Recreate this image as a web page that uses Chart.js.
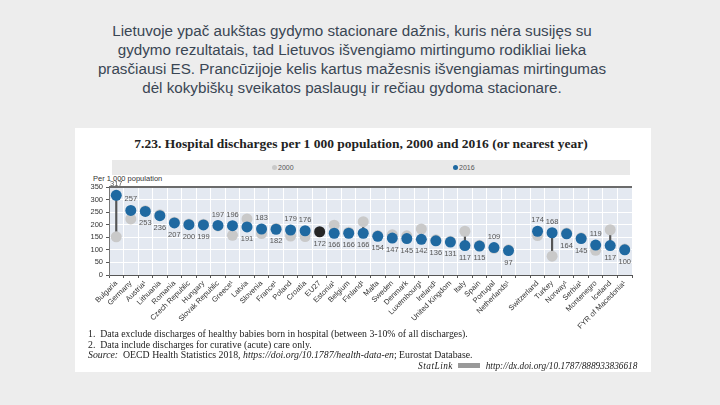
<!DOCTYPE html>
<html>
<head>
<meta charset="utf-8">
<script src="https://cdn.jsdelivr.net/npm/chart.js@4"></script>
<style>
body { margin:0; width:720px; height:405px; background:#ededed; font-family:'Liberation Sans', Arial, sans-serif; position:relative; overflow:hidden; }
#slideTitle { position:absolute; left:-8px; top:21px; width:720px; text-align:center; font-size:15.2px; line-height:19px; color:#3a4654; }
#panel { position:absolute; left:75px; top:128px; width:576px; height:244px; background:#fff; }
#chartTitle { position:absolute; left:-2px; top:8px; width:100%; text-align:center; font-family:'Liberation Serif', serif; font-weight:bold; font-size:13.5px; color:#222; }
#legendBand { position:absolute; left:37px; top:32px; width:518px; height:15px; background:#e9e9e9; font-family:'Liberation Sans Narrow','Liberation Sans',sans-serif; font-size:7px; color:#555; }
.lg { position:absolute; top:3.5px; }
.dot { display:inline-block; width:5px; height:5px; border-radius:50%; margin-right:1px; vertical-align:-0.5px; }
#yTitle { position:absolute; left:18px; top:46px; font-family:'Liberation Sans Narrow','Liberation Sans',sans-serif; font-size:7.5px; color:#333; }
#chartBox { position:absolute; left:0; top:48px; width:576px; height:162px; }
#notes { position:absolute; left:13px; top:201px; font-family:'Liberation Serif', serif; font-size:9.8px; line-height:10.6px; color:#222; white-space:nowrap; }
#statlink { position:absolute; left:343px; top:233px; font-family:'Liberation Serif', serif; font-size:9.3px; color:#222; white-space:nowrap; }
</style>
</head>
<body>
<div id="slideTitle">Lietuvoje ypač aukštas gydymo stacionare dažnis, kuris nėra susijęs su<br>gydymo rezultatais, tad Lietuvos išvengiamo mirtingumo rodikliai lieka<br>prasčiausi ES. Prancūzijoje kelis kartus mažesnis išvengiamas mirtingumas<br>dėl kokybiškų sveikatos paslaugų ir rečiau gydoma stacionare.</div>
<div id="panel">
  <div id="chartTitle">7.23. Hospital discharges per 1 000 population, 2000 and 2016 (or nearest year)</div>
  <div id="legendBand">
    <span class="lg" style="left:160px"><span class="dot" style="background:#c9c9c9"></span>2000</span>
    <span class="lg" style="left:341px"><span class="dot" style="background:#1f69a1"></span>2016</span>
  </div>
  <div id="yTitle">Per 1 000 population</div>
  <div id="chartBox"><canvas id="hospChart"></canvas></div>
  <div id="notes">1.&nbsp; Data exclude discharges of healthy babies born in hospital (between 3-10% of all discharges).<br>2.&nbsp; Data include discharges for curative (acute) care only.<br><i>Source:</i>&nbsp; OECD Health Statistics 2018, <i>https://doi.org/10.1787/health-data-en</i>; Eurostat Database.</div>
  <div id="statlink"><i style="letter-spacing:0.5px">StatLink</i> <span style="display:inline-block;width:22px;height:5px;background:#999;vertical-align:1px;margin:0 3px"></span> <i>http://dx.doi.org/10.1787/888933836618</i></div>
</div>
<script>
var countries = ['Bulgaria','Germany','Austria¹','Lithuania','Romania','Czech Republic','Hungary','Slovak Republic','Greece¹','Latvia','Slovenia','France¹','Poland','Croatia','EU27','Estonia¹','Belgium','Finland¹','Malta','Sweden','Denmark','Luxembourg¹','Ireland¹','United Kingdom','Italy','Spain','Portugal','Netherlands¹','','Switzerland','Turkey','Norway¹','Serbia¹','Montenegro','Iceland','FYR of Macedonia¹'];
var values2016 = [317,257,253,236,207,200,199,197,196,191,183,182,179,176,172,166,166,166,154,147,145,142,136,131,117,115,109,97,null,174,168,164,145,119,117,100];
var values2000 = [152,223,256,240,210,203,202,195,158,223,165,185,155,153,null,198,170,212,157,160,156,183,140,134,174,118,106,100,null,157,75,167,148,98,180,103];
var yTicks = [0,50,100,150,200,250,300,350];

var blue = '#1f69a1', grey = '#c9c9c9', euColor = '#262626';
var narrow = "'Liberation Sans Narrow','Liberation Sans',sans-serif";

var ranges = values2016.map(function(v, i) {
    var o = values2000[i];
    if (v == null || o == null) return null;
    return [Math.min(v, o), Math.max(v, o)];
});
var pointColors = countries.map(function(c) { return c === 'EU27' ? euColor : blue; });

var plotBackground = {
    id: 'plotBackground',
    beforeDraw: function(chart) {
        var a = chart.chartArea, ctx = chart.ctx;
        ctx.save();
        ctx.fillStyle = '#e4e9f1';
        ctx.fillRect(a.left, a.top, a.right - a.left, a.bottom - a.top);
        ctx.restore();
    },
    afterDraw: function(chart) {
        var a = chart.chartArea, ctx = chart.ctx;
        ctx.save();
        ctx.strokeStyle = '#6b6b6b';
        ctx.lineWidth = 2;
        ctx.beginPath();
        ctx.moveTo(a.left, a.top);
        ctx.lineTo(a.right, a.top);
        ctx.stroke();
        ctx.restore();
    }
};

var valueLabels = {
    id: 'valueLabels',
    afterDatasetsDraw: function(chart) {
        var meta = chart.getDatasetMeta(2), ctx = chart.ctx;
        ctx.save();
        ctx.font = '7.5px ' + narrow;
        ctx.fillStyle = '#555';
        ctx.textAlign = 'center';
        ctx.textBaseline = 'middle';
        meta.data.forEach(function(el, i) {
            var v = values2016[i];
            if (v == null) return;
            var o = values2000[i];
            var above = o != null && o < v;
            ctx.fillText(String(v), el.x, above ? el.y - 11 : el.y + 12);
        });
        ctx.restore();
    }
};

new Chart(document.getElementById('hospChart').getContext('2d'), {
    type: 'bar',
    data: {
        labels: countries,
        datasets: [
            { type: 'bar', label: 'range', data: ranges, backgroundColor: '#555', barThickness: 1.5, order: 3 },
            { type: 'line', label: '2000', data: values2000, showLine: false, pointRadius: 5.5, pointBackgroundColor: grey, pointBorderWidth: 0, order: 2 },
            { type: 'line', label: '2016', data: values2016, showLine: false, pointRadius: 5.5, pointBackgroundColor: pointColors, pointBorderWidth: 0, order: 1 }
        ]
    },
    options: {
        responsive: true,
        maintainAspectRatio: false,
        animation: false,
        layout: { padding: { top: 11, right: 19, left: 0 } },
        plugins: { legend: { display: false }, tooltip: { enabled: false } },
        scales: {
            x: {
                offset: true,
                afterFit: function(s) { s.height = 63; },
                grid: { color: '#ffffff', lineWidth: 1, tickLength: 3, tickColor: '#555', drawOnChartArea: true },
                border: { color: '#555', width: 1 },
                ticks: { autoSkip: false, minRotation: 45, maxRotation: 45, padding: 1, color: '#333', font: { family: narrow, size: 7.5 } }
            },
            y: {
                min: 0, max: 350,
                afterFit: function(s) { s.width = 34; },
                afterBuildTicks: function(s) { s.ticks = yTicks.map(function(v) { return { value: v }; }); },
                grid: { color: '#ffffff', lineWidth: 1, tickLength: 3, tickColor: '#555' },
                border: { color: '#777', width: 1 },
                ticks: { padding: 3, color: '#333', font: { family: narrow, size: 7.5 } }
            }
        }
    },
    plugins: [plotBackground, valueLabels]
});
</script>
</body>
</html>
